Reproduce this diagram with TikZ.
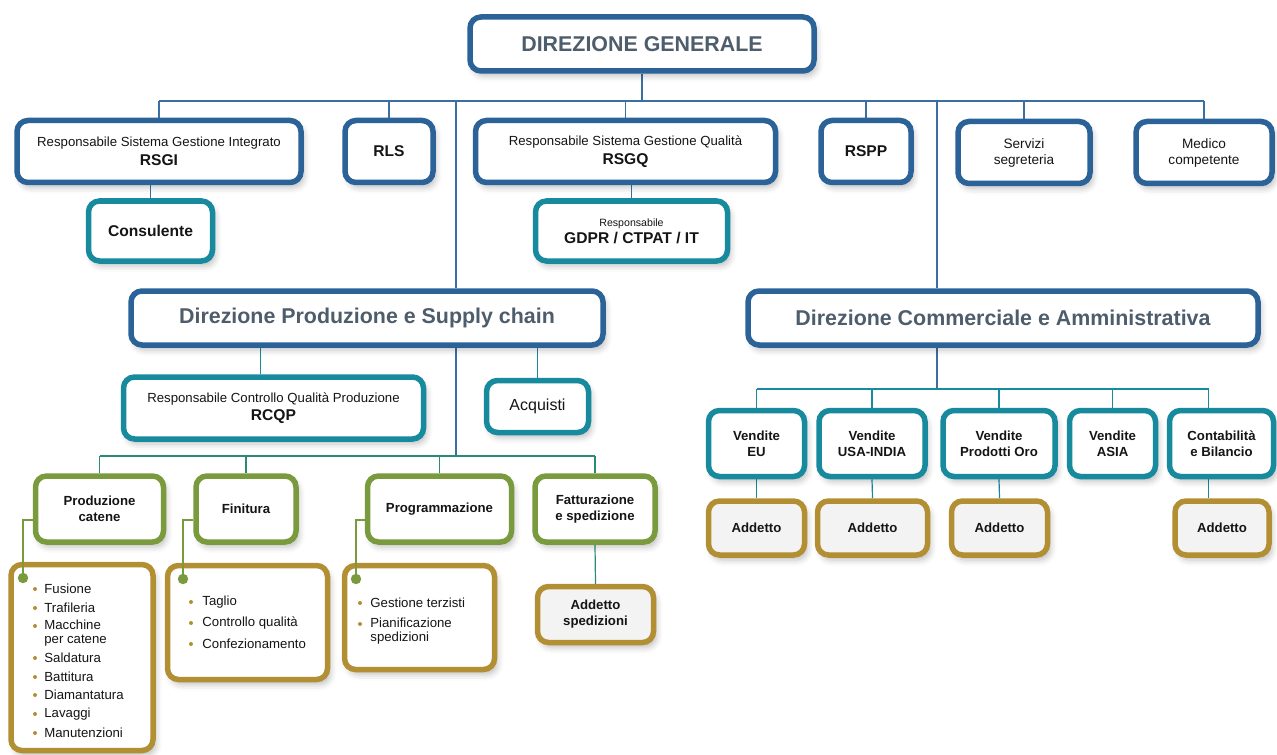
\documentclass[tikz,border=0pt]{standalone}
\usepackage{fontspec}
\setmainfont{Liberation Sans}
\usepackage{tikz}
\usetikzlibrary{positioning,shadows.blur}
\definecolor{dgblue}{HTML}{2B6298}
\definecolor{lineblue}{HTML}{3C6FA1}
\definecolor{dteal}{HTML}{178A9E}
\definecolor{dgreen}{HTML}{7A9A3E}
\definecolor{dgold}{HTML}{B38F34}
\definecolor{tgreen}{HTML}{2A8A78}
\definecolor{headgray}{HTML}{4E5D6C}
\definecolor{addfill}{HTML}{F3F3F3}
\definecolor{txt}{HTML}{151515}
\newcommand{\headtxt}{\bfseries\fontsize{10.7}{13}\selectfont}
\newcommand{\smalltxt}{\fontsize{6.6}{8}\selectfont}
\newcommand{\boldtxt}{\bfseries\fontsize{7.8}{9.5}\selectfont}
\newcommand{\labeltxt}{\bfseries\fontsize{6.6}{8}\selectfont}
\newcommand{\tinytxt}{\fontsize{5.3}{6.5}\selectfont}
\pgfdeclarelayer{bg}
\pgfsetlayers{bg,main}
\tikzstyle{card} = [rectangle, rounded corners=5.5pt, line width=2.75pt, fill=white, text=txt, align=center, inner sep=0pt,
  blur shadow={shadow xshift=1.5pt, shadow yshift=-2.5pt, shadow blur radius=3pt, shadow opacity=25}]
\tikzstyle{headbox}  = [card, draw=dgblue, text=headgray, font=\headtxt]
\tikzstyle{bluebox}  = [card, draw=dgblue, font=\smalltxt]
\tikzstyle{tealbox}  = [card, draw=dteal, font=\smalltxt]
\tikzstyle{salesbox} = [card, draw=dteal, font=\labeltxt]
\tikzstyle{greenbox} = [card, draw=dgreen, font=\labeltxt]
\tikzstyle{listbox}  = [card, draw=dgold]
\tikzstyle{addbox}   = [card, draw=dgold, fill=addfill, font=\labeltxt]
\tikzstyle{item}     = [anchor=west, inner sep=0pt, align=left, text=txt, font=\smalltxt]
\tikzstyle{blueline} = [draw=lineblue, line width=0.6pt]
\tikzstyle{tealline} = [draw=dteal, line width=0.6pt]
\tikzstyle{tgline}   = [draw=tgreen, line width=0.6pt]
\tikzstyle{sideline} = [draw=dgreen, line width=0.6pt]

\begin{document}
\begin{tikzpicture}[x=0.5pt, y=-0.5pt]
	\useasboundingbox (0,0) rectangle (1277,754);
	% top level
	\node [headbox, minimum width=172pt, minimum height=27pt] (DG) at (642,44) {DIREZIONE GENERALE};
	\node [bluebox, minimum width=142pt, minimum height=31pt] (RSGI) at (159,151.5)
		{Responsabile Sistema Gestione Integrato\\[1.5pt]{\boldtxt RSGI}};
	\node [bluebox, font=\boldtxt, minimum width=44pt, minimum height=31pt] (RLS) at (389,151.5) {RLS};
	\node [bluebox, minimum width=150pt, minimum height=31pt] (RSGQ) at (625.5,151.5)
		{Responsabile Sistema Gestione Qualità\\[1.5pt]{\boldtxt RSGQ}};
	\node [bluebox, font=\boldtxt, minimum width=45pt, minimum height=31pt] (RSPP) at (866,151.5) {RSPP};
	\node [bluebox, font=\fontsize{6.8}{8}\selectfont, minimum width=66pt, minimum height=31pt] (Serv) at (1024,152.5) {Servizi\\segreteria};
	\node [bluebox, font=\fontsize{6.8}{8}\selectfont, minimum width=68pt, minimum height=31pt] (Med) at (1204,152.5) {Medico\\competente};
	\node [tealbox, font=\boldtxt, minimum width=62pt, minimum height=30pt] (Cons) at (150.5,231) {Consulente};
	\node [tealbox, minimum width=96pt, minimum height=30pt] (GDPR) at (631.5,231)
		{{\tinytxt Responsabile}\\[0.5pt]{\boldtxt GDPR / CTPAT / IT}};

	% the two directions
	\node [headbox, minimum width=236pt, minimum height=27pt] (DP) at (367,318) {Direzione Produzione e Supply chain};
	\node [headbox, minimum width=255pt, minimum height=27pt] (DC) at (1003,318) {Direzione Commerciale e Amministrativa};

	% production side
	\node [tealbox, minimum width=150pt, minimum height=31pt] (RCQP) at (273.5,408)
		{Responsabile Controllo Qualità Produzione\\[1pt]{\boldtxt RCQP}};
	\node [tealbox, font=\fontsize{8}{9.5}\selectfont, minimum width=51pt, minimum height=26pt] (Acq) at (537.5,406.5) {Acquisti};
	\node [greenbox, minimum width=64pt, minimum height=33pt] (ProdCat) at (99.5,509) {Produzione\\catene};
	\node [greenbox, minimum width=50pt, minimum height=33pt] (Fin) at (246,509) {Finitura};
	\node [greenbox, minimum width=72pt, minimum height=33pt] (Prog) at (439.5,509) {Programmazione};
	\node [greenbox, minimum width=60pt, minimum height=33pt] (Fatt) at (595,509) {Fatturazione\\e spedizione};
	\node [listbox, minimum width=71pt, minimum height=93pt] (L1) at (82,657.5) {};
	\node [listbox, minimum width=80pt, minimum height=57pt] (L2) at (247.5,622.5) {};
	\node [listbox, minimum width=75pt, minimum height=52pt] (L3) at (419.5,617.5) {};
	\node [addbox, minimum width=58pt, minimum height=28pt] (Sped) at (595.5,614.5) {Addetto\\spedizioni};

	% list items
	\node [item] (i11) at (44,589) {Fusione};
	\node [item] (i12) at (44,608) {Trafileria};
	\node [item, font=\fontsize{6.6}{6.8}\selectfont] (i13) at (44,633) {Macchine\\per catene};
	\node [item] (i14) at (44,658) {Saldatura};
	\node [item] (i15) at (44,677) {Battitura};
	\node [item] (i16) at (44,695) {Diamantatura};
	\node [item] (i17) at (44,714) {Lavaggi};
	\node [item] (i18) at (44,733) {Manutenzioni};
	\node [item] (i21) at (202,602) {Taglio};
	\node [item] (i22) at (202,623) {Controllo qualità};
	\node [item] (i23) at (202,644) {Confezionamento};
	\node [item] (i31) at (370,603) {Gestione terzisti};
	\node [item, font=\fontsize{6.6}{6.8}\selectfont] (i32) at (370,631) {Pianificazione\\spedizioni};
	\foreach \y in {589,608,626,658,677,695,714,733} \fill [dgold] (35,\y) circle (1pt);
	\foreach \y in {602,623,644} \fill [dgold] (191,\y) circle (1pt);
	\foreach \y in {603,624} \fill [dgold] (360,\y) circle (1pt);

	% commercial side
	\node [salesbox, minimum width=48pt, minimum height=33pt] (EU) at (756.5,443.5) {Vendite\\EU};
	\node [salesbox, minimum width=53pt, minimum height=33pt] (USA) at (872,443.5) {Vendite\\USA-INDIA};
	\node [salesbox, minimum width=56pt, minimum height=33pt] (Oro) at (999,443.5) {Vendite\\Prodotti Oro};
	\node [salesbox, minimum width=43pt, minimum height=33pt] (Asia) at (1112.5,443.5) {Vendite\\ASIA};
	\node [salesbox, minimum width=52pt, minimum height=33pt] (Cont) at (1221.5,443.5) {Contabilità\\e Bilancio};
	\node [addbox, minimum width=48pt, minimum height=27pt] (A1) at (756.5,528) {Addetto};
	\node [addbox, minimum width=55pt, minimum height=27pt] (A2) at (872.5,528) {Addetto};
	\node [addbox, minimum width=48pt, minimum height=27pt] (A3) at (999.5,528) {Addetto};
	\node [addbox, minimum width=47pt, minimum height=27pt] (A4) at (1222,528) {Addetto};

	% connectors
	\begin{pgfonlayer}{bg}
	\coordinate (bus) at (642,101);
	\coordinate (pv) at (456,101);
	\coordinate (cv) at (937,101);
	\coordinate (gbus) at (456,456);
	\coordinate (tbus) at (937,389);
	\coordinate (rdrop) at ([xshift=-6.5pt]RCQP.north);
	\coordinate (cdrop) at ([xshift=-6.5pt]Cont.north);
	\path [blueline] (DG.south) -- (bus);
	\path [blueline] (RSGI.north |- bus) -- (Med.north |- bus);
	\path [blueline] (RSGI.north) -- (RSGI.north |- bus);
	\path [blueline] (RLS.north) -- (RLS.north |- bus);
	\path [blueline] (RSGQ.north) -- (RSGQ.north |- bus);
	\path [blueline] (RSPP.north) -- (RSPP.north |- bus);
	\path [blueline] (Serv.north) -- (Serv.north |- bus);
	\path [blueline] (Med.north) -- (Med.north |- bus);
	\path [blueline] (Cons.north) -- (Cons.north |- RSGI.south);
	\path [blueline] (GDPR.north) -- (GDPR.north |- RSGQ.south);
	\path [blueline] (pv) -- (pv |- DP.north);
	\path [blueline] (cv) -- (cv |- DC.north);
	\path [blueline] (pv |- DP.south) -- (gbus);
	\path [blueline] (cv |- DC.south) -- (tbus);
	\path [tealline] (rdrop) -- (rdrop |- DP.south);
	\path [tealline] (Acq.north) -- (Acq.north |- DP.south);
	\path [tgline] (ProdCat.north |- gbus) -- (Fatt.north |- gbus);
	\path [tgline] (ProdCat.north) -- (ProdCat.north |- gbus);
	\path [tgline] (Fin.north) -- (Fin.north |- gbus);
	\path [tgline] (Prog.north) -- (Prog.north |- gbus);
	\path [tgline] (Fatt.north) -- (Fatt.north |- gbus);
	\path [tgline] (Fatt.south) -- (Sped.north);
	\path [tealline] (EU.north |- tbus) -- (cdrop |- tbus);
	\path [tealline] (EU.north) -- (EU.north |- tbus);
	\path [tealline] (USA.north) -- (USA.north |- tbus);
	\path [tealline] (Oro.north) -- (Oro.north |- tbus);
	\path [tealline] (Asia.north) -- (Asia.north |- tbus);
	\path [tealline] (cdrop) -- (tbus -| cdrop);
	\path [tealline] (EU.south) -- (A1.north);
	\path [tealline] (USA.south) -- (A2.north);
	\path [tealline] (Oro.south) -- (A3.north);
	\path [tealline] (cdrop |- Cont.south) -- (cdrop |- A4.north);
	\end{pgfonlayer}

	% side links to the task lists
	\coordinate (d1) at (23,578);
	\coordinate (d2) at (183,579);
	\coordinate (d3) at (356,579);
	\path [sideline] (ProdCat.west) ++(0,11) -| (d1);
	\path [sideline] (Fin.west) ++(0,11) -| (d2);
	\path [sideline] (Prog.west) ++(0,11) -| (d3);
	\fill [dgreen] (d1) circle (2.6pt);
	\fill [dgreen] (d2) circle (2.6pt);
	\fill [dgreen] (d3) circle (2.6pt);
\end{tikzpicture}
\end{document}
